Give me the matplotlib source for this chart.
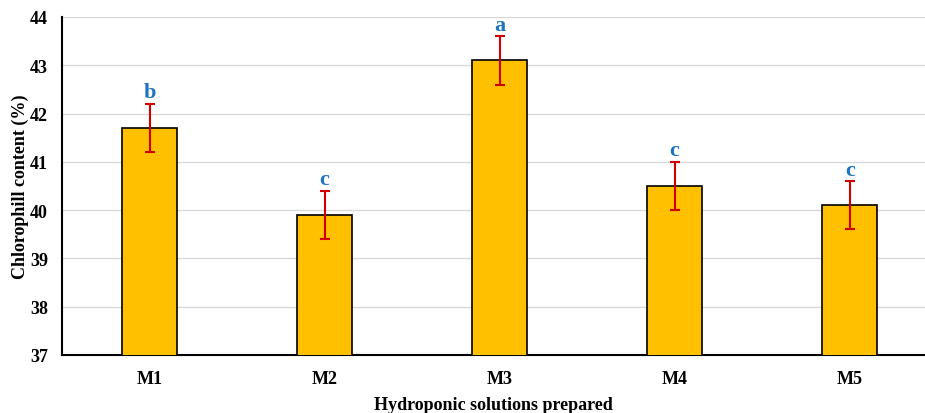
import matplotlib
matplotlib.use("Agg")
import matplotlib.pyplot as plt

categories = ["M1", "M2", "M3", "M4", "M5"]
means = [41.7, 39.9, 43.1, 40.5, 40.1]
errors = [0.5, 0.5, 0.5, 0.5, 0.5]
letters = ["b", "c", "a", "c", "c"]
yticks = [37, 38, 39, 40, 41, 42, 43, 44]

plt.rcParams["font.family"] = ["Liberation Serif", "DejaVu Serif"]
plt.rcParams["font.weight"] = "bold"

fig = plt.figure(figsize=(9.25, 4.14), dpi=100)
ax = fig.add_axes([62 / 925, 58 / 414, (925 - 62) / 925, (356 - 18) / 414])

x = list(range(len(categories)))
ax.bar(x, means, width=0.314, color="#FFC000", edgecolor="black", linewidth=1.2, zorder=3)
ax.errorbar(x, means, yerr=errors, fmt="none", ecolor="#D00000", elinewidth=1.5,
            capsize=3.5, capthick=1.5, zorder=4)
for xi, m, e, lab in zip(x, means, errors, letters):
    ax.text(xi, m + e + 0.03, lab, ha="center", va="bottom", color="#1F73C2",
            fontsize=16, fontweight="bold", zorder=5)

ax.set_ylim(37, 44)
ax.set_xlim(-0.5, 4.43)
ax.set_yticks(yticks)
ax.set_xticks(x)
ax.set_xticklabels(categories)
ax.yaxis.grid(True, color="#D9D9D9", linewidth=1.0, zorder=0)
ax.set_axisbelow(True)
for side in ["top", "right"]:
    ax.spines[side].set_visible(False)
ax.spines["left"].set_linewidth(1.5)
ax.spines["bottom"].set_linewidth(1.5)
ax.tick_params(axis="both", length=0, labelsize=13)
ax.tick_params(axis="y", pad=10)
ax.tick_params(axis="x", pad=11)
for t in ax.get_xticklabels() + ax.get_yticklabels():
    t.set_fontweight("bold")

ax.set_ylabel("Chlorophill content (%)", fontsize=13, fontweight="bold", labelpad=1)
ax.set_xlabel("Hydroponic solutions prepared", fontsize=13, fontweight="bold", labelpad=6)

fig.savefig("out.png", dpi=100)
